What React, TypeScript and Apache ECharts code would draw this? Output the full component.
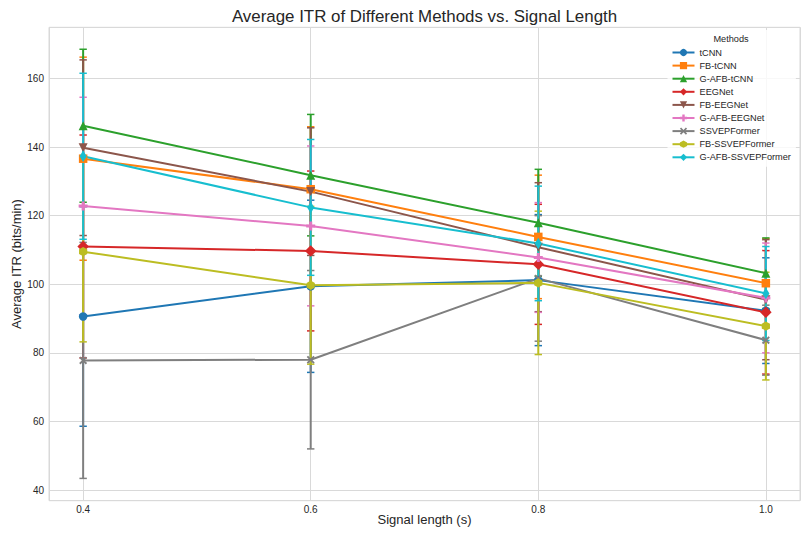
import React, { useEffect, useRef } from "react";
import * as echarts from "echarts";

// ---------------- data ----------------
const signalLengths = [0.4, 0.6, 0.8, 1.0];
const xTickLabels = ["0.4", "0.6", "0.8", "1.0"];
const methods = [
  "tCNN",
  "FB-tCNN",
  "G-AFB-tCNN",
  "EEGNet",
  "FB-EEGNet",
  "G-AFB-EEGNet",
  "SSVEPFormer",
  "FB-SSVEPFormer",
  "G-AFB-SSVEPFormer",
];

const tCNNMean = [90.6, 99.4, 101.2, 92.3];
const tCNNStd = [32.0, 25.1, 19.1, 15.4];
const fbTCNNMean = [136.6, 127.7, 113.8, 100.3];
const fbTCNNStd = [29.6, 18.2, 18.0, 13.0];
const gafbTCNNMean = [146.2, 131.8, 117.9, 103.2];
const gafbTCNNStd = [22.3, 17.7, 15.6, 10.3];
const eegnetMean = [111.0, 109.7, 105.8, 91.8];
const eegnetStd = [32.5, 23.3, 17.5, 18.0];
const fbEEGNetMean = [139.8, 127.0, 110.8, 95.5];
const fbEEGNetStd = [25.6, 18.6, 18.8, 17.5];
const gafbEEGNetMean = [122.8, 117.0, 107.8, 96.0];
const gafbEEGNetStd = [31.7, 23.3, 16.0, 16.0];
const ssvepFormerMean = [77.8, 78.0, 101.7, 83.7];
const ssvepFormerStd = [34.4, 26.0, 18.3, 10.2];
const fbSSVEPFormerMean = [109.5, 99.7, 100.4, 87.8];
const fbSSVEPFormerStd = [26.3, 23.0, 20.9, 15.7];
const gafbSSVEPFormerMean = [137.3, 122.4, 111.9, 97.3];
const gafbSSVEPFormerStd = [24.2, 19.8, 16.7, 13.7];

const means = [
  tCNNMean,
  fbTCNNMean,
  gafbTCNNMean,
  eegnetMean,
  fbEEGNetMean,
  gafbEEGNetMean,
  ssvepFormerMean,
  fbSSVEPFormerMean,
  gafbSSVEPFormerMean,
];
const stds = [
  tCNNStd,
  fbTCNNStd,
  gafbTCNNStd,
  eegnetStd,
  fbEEGNetStd,
  gafbEEGNetStd,
  ssvepFormerStd,
  fbSSVEPFormerStd,
  gafbSSVEPFormerStd,
];

// ---------------- styles ----------------
const colors = [
  "#1f77b4",
  "#ff7f0e",
  "#2ca02c",
  "#d62728",
  "#8c564b",
  "#e377c2",
  "#7f7f7f",
  "#bcbd22",
  "#17becf",
];

const PLUS = "path://M2,0L4,0L4,2L6,2L6,4L4,4L4,6L2,6L2,4L0,4L0,2L2,2Z";
const XFILL = "path://M0,1L1,0L3,2L5,0L6,1L4,3L6,5L5,6L3,4L1,6L0,5L2,3Z";
const HEX = "path://M50,0L93.3,25L93.3,75L50,100L6.7,75L6.7,25Z";

const markers: { symbol: string; size: number | number[]; rotate?: number }[] = [
  { symbol: "circle", size: 8.5 },
  { symbol: "rect", size: 8.5 },
  { symbol: "triangle", size: 9 },
  { symbol: "diamond", size: 11.5 },
  { symbol: "triangle", size: 9, rotate: 180 },
  { symbol: PLUS, size: 9 },
  { symbol: XFILL, size: 8 },
  { symbol: HEX, size: [8.2, 9.4] },
  { symbol: "diamond", size: [7.2, 11.5] },
];

const FONT = "'Liberation Sans', Arial, Helvetica, sans-serif";
const TEXT = "#262626";
const GRID = "#d9d9d9";

const PLOT_LEFT = 49;
const PLOT_RIGHT = 800;
const PLOT_TOP = 27.3;
const PLOT_BOTTOM = 500.7;

export default function App() {
  const ref = useRef<HTMLDivElement>(null);

  useEffect(() => {
    document.body.style.margin = "0";
    if (!ref.current) return;
    const chart = echarts.init(ref.current, undefined, { renderer: "svg" });

    const errorSeries = methods.map((name, k) => ({
      type: "custom",
      name: name + " error",
      z: 1,
      silent: true,
      encode: { x: 0, y: [1, 2] },
      data: signalLengths.map((x, i) => [
        x,
        means[k][i] - stds[k][i],
        means[k][i] + stds[k][i],
      ]),
      renderItem: (params: any, api: any) => {
        const x = api.value(0);
        const lo = api.coord([x, api.value(1)]);
        const hi = api.coord([x, api.value(2)]);
        const hw = 3.7;
        const c = colors[k];
        return {
          type: "group",
          children: [
            {
              type: "line",
              shape: { x1: lo[0], y1: lo[1], x2: hi[0], y2: hi[1] },
              style: { stroke: c, lineWidth: 2 },
            },
            {
              type: "line",
              shape: { x1: lo[0] - hw, y1: lo[1], x2: lo[0] + hw, y2: lo[1] },
              style: { stroke: c, lineWidth: 1.5 },
            },
            {
              type: "line",
              shape: { x1: hi[0] - hw, y1: hi[1], x2: hi[0] + hw, y2: hi[1] },
              style: { stroke: c, lineWidth: 1.5 },
            },
          ],
        };
      },
    }));

    const lineSeries = methods.map((name, k) => ({
      type: "line",
      name,
      z: 2,
      data: signalLengths.map((x, i) => [x, means[k][i]]),
      symbol: markers[k].symbol,
      symbolSize: markers[k].size,
      symbolRotate: markers[k].rotate || 0,
      showSymbol: true,
      color: colors[k],
      itemStyle: { color: colors[k], opacity: 1 },
      lineStyle: { color: colors[k], width: 2 },
      emphasis: { disabled: true },
    }));

    const option: any = {
      animation: false,
      backgroundColor: "#ffffff",
      textStyle: { fontFamily: FONT },
      grid: {
        left: PLOT_LEFT,
        right: 809 - PLOT_RIGHT,
        top: PLOT_TOP,
        bottom: 538 - PLOT_BOTTOM,
        show: true,
        backgroundColor: "#ffffff",
        borderColor: GRID,
        borderWidth: 1,
        containLabel: false,
      },
      xAxis: {
        type: "value",
        min: 0.37,
        max: 1.03,
        splitNumber: 3,
        name: "Signal length (s)",
        nameLocation: "middle",
        nameGap: 12.5,
        nameMoveOverlap: false,
        nameTextStyle: { fontSize: 13, color: TEXT, fontFamily: FONT, verticalAlign: "top" },
        axisLine: { show: false },
        axisTick: { show: false },
        splitLine: { show: true, lineStyle: { color: GRID, width: 1 } },
        axisLabel: {
          showMinLabel: false,
          showMaxLabel: false,
          margin: 4,
          fontSize: 10,
          color: TEXT,
          fontFamily: FONT,
          formatter: (v: number) => {
            const idx = signalLengths.findIndex((s) => Math.abs(s - v) < 1e-6);
            return idx >= 0 ? xTickLabels[idx] : "";
          },
        },
      },
      yAxis: {
        type: "value",
        min: 36.9,
        max: 174.9,
        splitNumber: 7,
        name: "Average ITR (bits/min)",
        nameLocation: "middle",
        nameGap: 26,
        nameMoveOverlap: false,
        nameTextStyle: { fontSize: 13, color: TEXT, fontFamily: FONT },
        axisLine: { show: false },
        axisTick: { show: false },
        splitLine: { show: true, lineStyle: { color: GRID, width: 1 } },
        axisLabel: {
          showMinLabel: false,
          showMaxLabel: false,
          margin: 5,
          fontSize: 10,
          color: TEXT,
          fontFamily: FONT,
          formatter: (v: number) => String(Math.round(v)),
        },
      },
      legend: {
        data: methods,
        orient: "vertical",
        left: 667.5,
        top: 30,
        padding: [18, 5, 5, 4],
        itemWidth: 22,
        itemHeight: 9,
        itemGap: 4.1,
        selectedMode: false,
        backgroundColor: "rgba(255,255,255,0.8)",
        textStyle: { fontSize: 9.2, color: TEXT, fontFamily: FONT },
      },
      graphic: [
        {
          type: "text",
          z: 100,
          x: (PLOT_LEFT + PLOT_RIGHT) / 2,
          y: 16.2,
          style: {
            text: "Average ITR of Different Methods vs. Signal Length",
            fontSize: 16.9,
            fontFamily: FONT,
            fill: TEXT,
            textAlign: "center",
            textVerticalAlign: "middle",
          },
        },
        {
          type: "text",
          z: 100,
          x: 731,
          y: 39.3,
          style: {
            text: "Methods",
            fontSize: 9.2,
            fontFamily: FONT,
            fill: TEXT,
            textAlign: "center",
            textVerticalAlign: "middle",
          },
        },
      ],
      series: [...errorSeries, ...lineSeries],
    };

    chart.setOption(option);
    return () => chart.dispose();
  }, []);

  return <div ref={ref} style={{ width: 809, height: 538 }} />;
}
